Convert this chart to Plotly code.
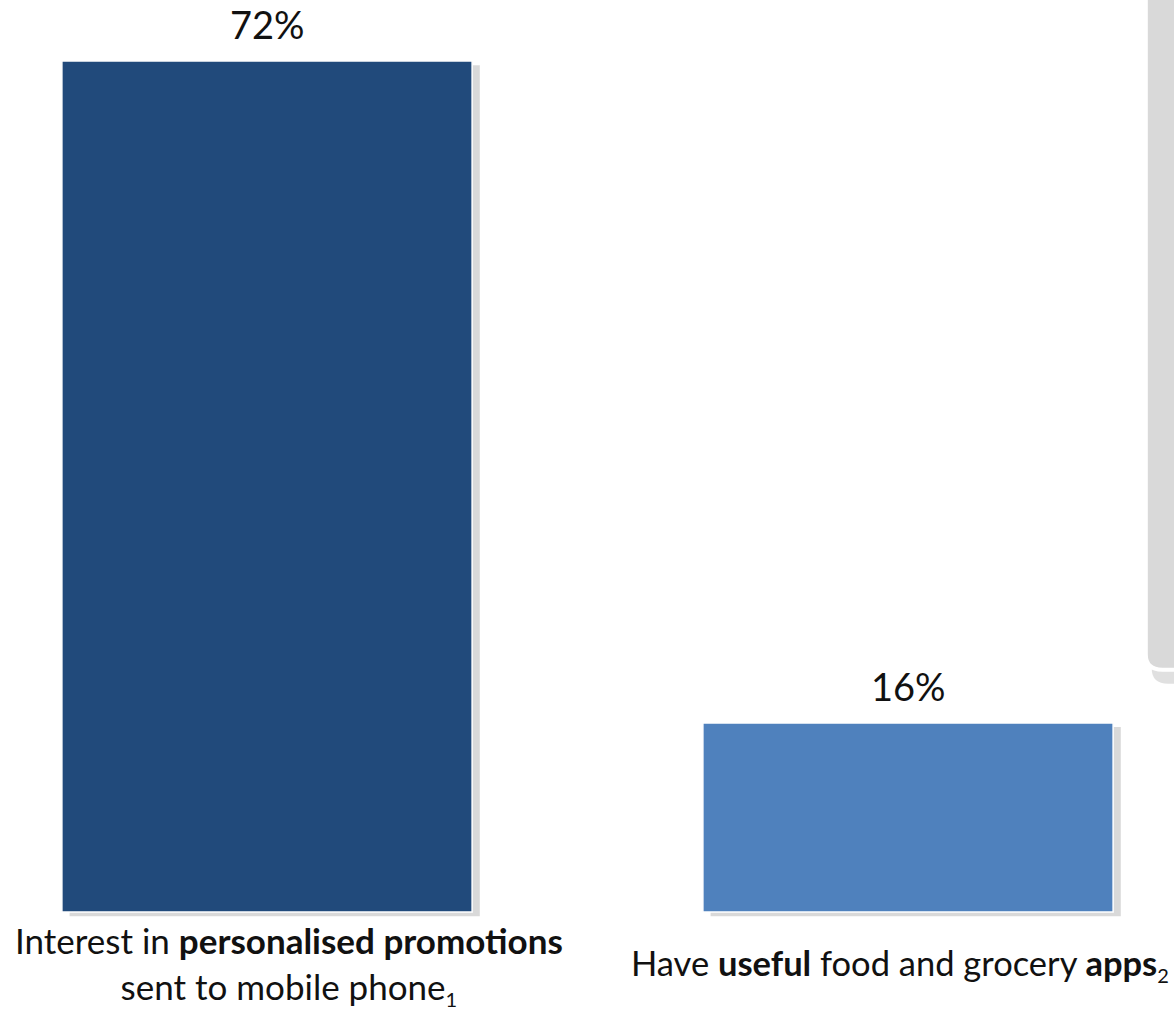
import plotly.graph_objects as go

SUB = "<sub><span style='font-size:20px'>{}</span></sub>"
categories = ["Interest in <b>personalised promotions</b><br>sent to mobile phone" + SUB.format("1"),
              "Have <b>useful</b> food and grocery <b>apps</b>" + SUB.format("2")]
values = [72, 16]
value_labels = ["72%", "16%"]
bar_colors = ["#214A7B", "#4F81BD"]
xpos = [0, 1]

FONT = "Lato"
W, H = 1174, 1010
bw = 0.64
cx0 = 267
step = 641
base_px = 912
px_per = 851 / 72

fig = go.Figure()
# soft shadow
fig.add_trace(go.Bar(x=xpos, y=values, base=[-0.35, -0.35], width=bw, offset=-bw/2 + 0.012,
                     marker=dict(color="rgba(0,0,0,0.15)", line=dict(width=0)),
                     hoverinfo="skip", showlegend=False))
fig.add_trace(go.Bar(x=xpos, y=values, width=bw, offset=-bw/2,
                     marker=dict(color=bar_colors, line=dict(color="white", width=1.5)),
                     showlegend=False))

for x, v, t in zip(xpos, values, value_labels):
    fig.add_annotation(x=x, y=v, text=t, showarrow=False, yanchor="middle", yshift=37,
                       font=dict(family=FONT, size=38, color="#111111"))

fig.add_annotation(x=0, y=0, text=categories[0], showarrow=False, yanchor="top", yshift=-5,
                   xshift=22, font=dict(family=FONT, size=35, color="#111111"))
fig.add_annotation(x=1, y=0, text=categories[1], showarrow=False, yanchor="top", yshift=-28,
                   xshift=-8, font=dict(family=FONT, size=34.5, color="#111111"))

# gray panel at the right edge
fig.add_shape(type="path", xref="paper", yref="paper",
              path="M 0.981 1.1 L 0.981 0.338 Q 0.981 0.323 0.995 0.323 L 1.1 0.323 L 1.1 1.1 Z",
              fillcolor="rgba(0,0,0,0.12)", line=dict(width=0), layer="below")
fig.add_shape(type="path", xref="paper", yref="paper",
              path="M 0.976 1.1 L 0.976 0.352 Q 0.976 0.337 0.990 0.337 L 1.1 0.337 L 1.1 1.1 Z",
              fillcolor="#D9D9D9", line=dict(color="white", width=4), layer="below")

fig.update_layout(
    width=W, height=H,
    margin=dict(l=0, r=0, t=0, b=0),
    paper_bgcolor="white", plot_bgcolor="rgba(0,0,0,0)",
    barmode="overlay",
    xaxis=dict(range=[-cx0 / step, (W - cx0) / step], visible=False, fixedrange=True),
    yaxis=dict(range=[-(H - base_px) / px_per, base_px / px_per], visible=False, fixedrange=True),
)
fig.write_html("out.html", config={"displayModeBar": False, "staticPlot": True},
               post_script="document.body.style.margin='0';document.body.style.overflow='hidden';")
